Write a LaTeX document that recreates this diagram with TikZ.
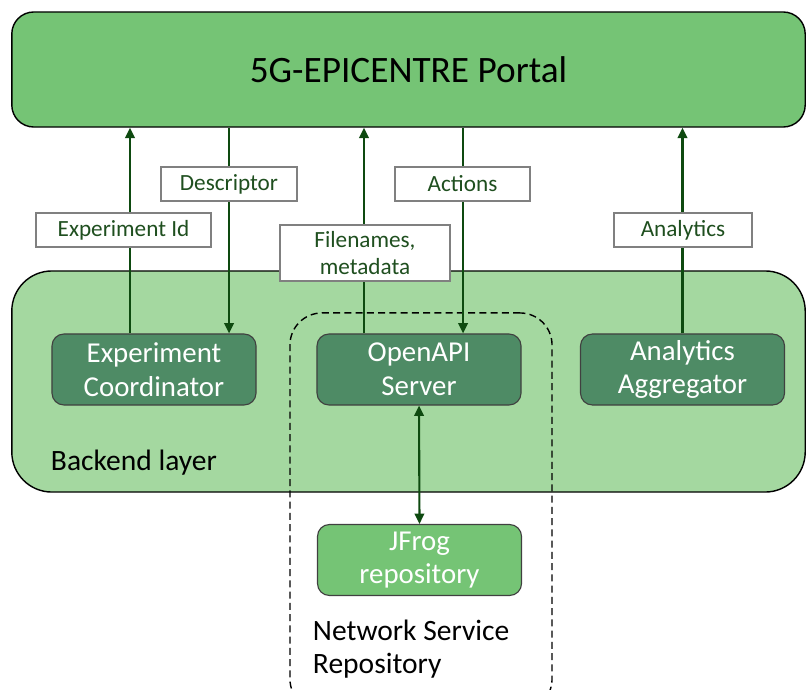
\documentclass[tikz,border=0pt]{standalone}
\usepackage{fontspec}
\setmainfont{Carlito}
\usepackage{xcolor}
\usetikzlibrary{arrows.meta,positioning}
\definecolor{portalgreen}{HTML}{75C475}
\definecolor{layergreen}{HTML}{A4D8A0}
\definecolor{compgreen}{HTML}{4E8B65}
\definecolor{arrowgreen}{HTML}{0E4A10}
\definecolor{labelgreen}{HTML}{1F4F1F}

\begin{document}
\begin{tikzpicture}[
  x=0.025cm, y=-0.025cm,
  every node/.style={font=\fontsize{20.5}{24}\selectfont},
  layer/.style={rectangle, draw=black, line width=1pt, minimum width=19.83cm},
  comp/.style={rectangle, rounded corners=0.3cm, draw=black!75, line width=0.8pt,
    align=center, minimum width=5.1cm, minimum height=1.775cm, text=white},
  msg/.style={rectangle, draw=black!50, line width=1.1pt, fill=white, align=center,
    text=labelgreen, font=\fontsize{16.5}{19}\selectfont, inner sep=2pt, minimum height=0.85cm},
  a/.style={-{Triangle[length=2.6mm,width=2.4mm]}, line width=1.5pt, draw=arrowgreen},
  aa/.style={{Triangle[length=2.6mm,width=2.4mm]}-{Triangle[length=2.6mm,width=2.4mm]}, line width=1.5pt, draw=arrowgreen}
]
\useasboundingbox (0,0) rectangle (807,689);

\node[layer, rounded corners=0.55cm, fill=portalgreen, minimum height=2.875cm,
  font=\fontsize{26.5}{30}\selectfont] (portal) at (408.5,69.5) {5G-EPICENTRE Portal};
\node[layer, rounded corners=1cm, fill=layergreen, minimum height=5.525cm] (backend) at (408.5,381.5) {};
\node[anchor=west, font=\fontsize{21}{24}\selectfont] (backlbl) at (46,463) {Backend layer};

\node[comp, fill=compgreen] (coord) at (154,369.5) {Experiment\\Coordinator};
\node[comp, fill=compgreen] (openapi) at (419,369.5) {OpenAPI\\Server};
\node[comp, fill=compgreen] (aggr) at (682.5,369.5) {Analytics\\Aggregator};
\node[comp, fill=portalgreen] (jfrog) at (419.5,560) {JFrog\\repository};

% network service repository
\node[rectangle, draw=black, dash pattern=on 5pt off 3pt, line width=1pt, rounded corners=0.8cm,
  minimum width=6.55cm, minimum height=9.95cm] (nsrbox) at (421,512) {};
\node[anchor=west, align=left, font=\fontsize{21}{24}\selectfont] (nsrlbl) at (308,649) {Network Service\\Repository};

\draw[a] ([xshift=-0.6cm]coord.north) -- ([xshift=-0.6cm]coord.north |- portal.south);
\draw[a] ([xshift=1.875cm]coord.north |- portal.south) -- ([xshift=1.875cm]coord.north);
\draw[a] ([xshift=-1.375cm]openapi.north) -- ([xshift=-1.375cm]openapi.north |- portal.south);
\draw[a] ([xshift=1.1cm]openapi.north |- portal.south) -- ([xshift=1.1cm]openapi.north);
\draw[a] (aggr.north) -- (aggr.north |- portal.south);
\draw[aa] (openapi.south) -- (jfrog.north);

\node[msg, minimum width=4.375cm] (expid) at (123.5,230) {Experiment Id};
\node[msg, minimum width=3.4cm] (descr) at (229,184) {Descriptor};
\node[msg, minimum width=4.25cm, minimum height=1.4cm] (files) at (365,253) {Filenames,\\metadata};
\node[msg, minimum width=3.375cm] (actions) at (462.5,184) {Actions};
\node[msg, minimum width=3.45cm] (analytics) at (683,230) {Analytics};
\end{tikzpicture}
\end{document}
